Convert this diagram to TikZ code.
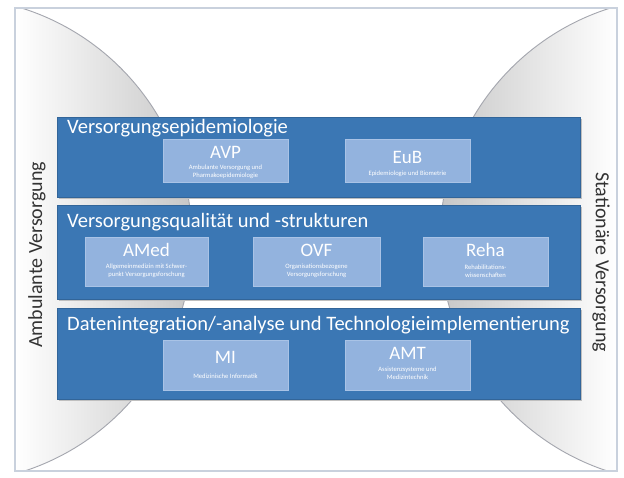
\documentclass[tikz,border=0pt]{standalone}
\usepackage{fontspec}
\setmainfont{Carlito}
\definecolor{band}{HTML}{3B77B4}
\definecolor{sub}{HTML}{93B3DE}
\definecolor{subline}{HTML}{A9C3E6}
\definecolor{frame}{HTML}{C9D1DD}
\definecolor{arc}{HTML}{A4A6AE}
\begin{document}
\begin{tikzpicture}[x=1pt,y=-1pt,
  bandbox/.style={fill=band, draw=band!85!black, line width=0.6pt},
  bandtitle/.style={anchor=west, text=white, font=\fontsize{20.5}{22}\selectfont, inner sep=0pt},
  subbox/.style={fill=sub, draw=subline, line width=0.8pt},
  subtext/.style={text=white, align=center, inner sep=0pt, font=\fontsize{6.6}{7.8}\selectfont},
  abbr/.style={text=white, font=\fontsize{19}{20}\selectfont, inner sep=0pt},
  sidelabel/.style={text=black!80, font=\fontsize{20}{22}\selectfont, inner sep=0pt}]
\useasboundingbox (0,0) rectangle (624,477);
\fill[white] (0,0) rectangle (624,477);
% half circles
\begin{scope}
  \clip (15,8) rectangle (617,471);
  \begin{scope}
    \clip (-51,240) circle (243);
    \shade[left color=white, right color=black!22] (15,0) rectangle (193,477);
  \end{scope}
  \draw[arc, line width=0.9pt] (-51,240) circle (243);
  \begin{scope}
    \clip (683,240) circle (243);
    \shade[left color=black!22, right color=white] (439,0) rectangle (617,477);
  \end{scope}
  \draw[arc, line width=0.9pt] (683,240) circle (243);
\end{scope}
\draw[frame, line width=1.6pt] (15,8) rectangle (617,471);
% bands
\fill[black!25] (59,119) rectangle (582,199);
\fill[black!25] (59,207) rectangle (582,301);
\fill[black!25] (59,310) rectangle (582,401);
\draw[bandbox] (57,117) rectangle (580,197);
\draw[bandbox] (57,205) rectangle (580,299);
\draw[bandbox] (57,308) rectangle (580,399);
\node[bandtitle] (t1) at (67,128) {Versorgungsepidemiologie};
\node[bandtitle] (t2) at (67,222) {Versorgungsqualität und -strukturen};
\node[bandtitle] (t3) at (67,325) {Datenintegration/-analyse und Technologieimplementierung};
% sub boxes
\draw[subbox] (163,139) rectangle (288,182);
\node[abbr] (avp) at (225.5,152) {AVP};
\node[subtext] (avps) at (225.5,172) {Ambulante Versorgung und\\Pharmakoepidemiologie};
\draw[subbox] (345,139) rectangle (470,182);
\node[abbr] (eub) at (407.5,157) {EuB};
\node[subtext] (eubs) at (407.5,174) {Epidemiologie und Biometrie};
\draw[subbox] (85,237) rectangle (208,286);
\node[abbr] (amed) at (146.5,250) {AMed};
\node[subtext] (ameds) at (146.5,271) {Allgemeinmedizin mit Schwer-\\punkt Versorgungsforschung};
\draw[subbox] (253,237) rectangle (380,286);
\node[abbr] (ovf) at (316.5,250) {OVF};
\node[subtext] (ovfs) at (316.5,271) {Organisationsbezogene\\Versorgungsforschung};
\draw[subbox] (423,237) rectangle (548,286);
\node[abbr] (reha) at (485.5,250) {Reha};
\node[subtext] (rehas) at (485.5,271) {Rehabilitations-\\wissenschaften};
\draw[subbox] (163,340) rectangle (288,390);
\node[abbr] (mi) at (225.5,357) {MI};
\node[subtext] (mis) at (225.5,376) {Medizinische Informatik};
\draw[subbox] (345,340) rectangle (470,390);
\node[abbr] (amt) at (407.5,353) {AMT};
\node[subtext] (amts) at (407.5,373) {Assistenzsysteme und\\Medizintechnik};
% side labels
\node[sidelabel, rotate=90] (amb) at (37,255) {Ambulante Versorgung};
\node[sidelabel, rotate=-90] (sta) at (601,262) {Stationäre Versorgung};
\end{tikzpicture}
\end{document}
